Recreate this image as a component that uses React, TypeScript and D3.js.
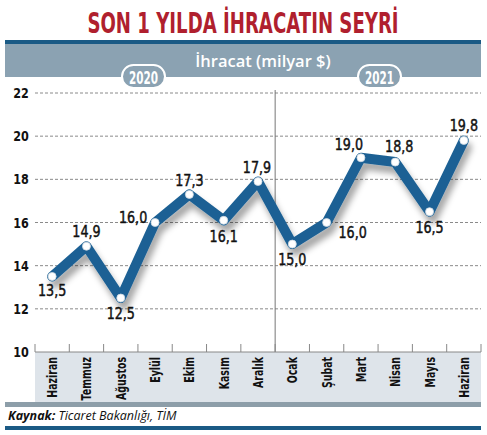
import * as d3 from "d3";

const months = ["Haziran", "Temmuz", "Ağustos", "Eylül", "Ekim", "Kasım", "Aralık", "Ocak", "Şubat", "Mart", "Nisan", "Mayıs", "Haziran"];
const values = [13.5, 14.9, 12.5, 16.0, 17.3, 16.1, 17.9, 15.0, 16.0, 19.0, 18.8, 16.5, 19.8];
const yTicks = [10, 12, 14, 16, 18, 20, 22];
const years = ["2020", "2021"];

// where each value label sits relative to its point
const labelOffsets = [
  [0, 20], [0, -9], [0, 21], [-22, 0], [0, -8], [0, 22], [-1, -8],
  [0, 21], [26, 15], [-12, -8], [4, -10], [0, 21], [0, -9],
];

const W = 487, H = 435;
const plot = { left: 35, right: 481, top: 93, bottom: 352 };
const font = "'DejaVu Sans', sans-serif";
const blue = "#1d6194";
const band = "#8ba2b2";

// no condensed face installed, so squeeze the text horizontally
function CT({ x, y, sx, rot = 0, children, ...rest }: any) {
  return (
    <text transform={`translate(${x},${y}) rotate(${rot}) scale(${sx},1)`} fontFamily={font} {...rest}>
      {children}
    </text>
  );
}

export default function App() {
  const idx = months.map((_, i) => i);
  const x = d3.scaleBand<number>().domain(idx).range([plot.left, plot.right]).padding(0);
  const y = d3.scaleLinear().domain([10, 22]).range([plot.bottom, plot.top]);
  const cx = (i: number) => x(i)! + x.bandwidth() / 2;
  const line = d3.line<number>().x((_, i) => cx(i)).y(d => y(d));
  const path = line(values)!;
  const splitX = x(7)!;

  return (
    <svg width={W} height={H} style={{ position: "absolute", left: 0, top: 0, background: "#fff" }}>
      <defs>
        <filter id="sh" x="-10%" y="-10%" width="130%" height="140%">
          <feDropShadow dx="3" dy="7" stdDeviation="3" floodColor="#000" floodOpacity="0.35" />
        </filter>
      </defs>

      <CT x={243} y={33} sx={0.625} textAnchor="middle" fontWeight="bold" fontSize={29} fill="#b01f2e">
        SON 1 YILDA İHRACATIN SEYRİ
      </CT>

      <rect x={5} y={40} width={476} height={4} fill="#1a5a85" />
      <rect x={5} y={44} width={476} height={33} fill={band} />
      <text x={263} y={67} textAnchor="middle" fontFamily="'Open Sans', sans-serif" fontWeight={600} fontSize={16.5}
        fill="#fff">İhracat (milyar $)</text>

      {years.map((yr, k) => {
        const c = k === 0 ? 143 : 379;
        return (
          <g key={yr}>
            <rect x={c - 21} y={65} width={43} height={23} rx={11.5} fill={band} stroke="#fff" strokeWidth={2} />
            <CT x={c + 0.5} y={84} sx={0.58} textAnchor="middle" fontWeight="bold" fontSize={18} fill="#fff">{yr}</CT>
          </g>
        );
      })}

      {yTicks.map(t => (
        <g key={t}>
          {t > 10 && (
            <line x1={plot.left} x2={plot.right} y1={y(t)} y2={y(t)} stroke="#8a8a8a" strokeWidth={1} strokeDasharray="3,2" />
          )}
          <CT x={21} y={y(t) + 5} sx={0.8} textAnchor="middle" fontWeight="bold" fontSize={14} fill="#111">{t}</CT>
        </g>
      ))}

      <line x1={splitX} x2={splitX} y1={90} y2={plot.bottom} stroke="#777" strokeWidth={1} />

      <rect x={plot.left} y={plot.bottom} width={plot.right - plot.left} height={51} fill="#dee4ea" />
      <rect x={5} y={402} width={476} height={5} fill="#8d9ea9" />
      <line x1={plot.left} x2={plot.right} y1={plot.bottom} y2={plot.bottom} stroke="#888" strokeWidth={1} />
      {idx.concat([13]).map(i => {
        const bx = i < 13 ? x(i)! : plot.right;
        return <line key={i} x1={bx} x2={bx} y1={plot.bottom - 8} y2={plot.bottom} stroke="#888" strokeWidth={1} />;
      })}
      {months.map((m, i) => (
        <CT key={i} x={cx(i) + 5} y={357} rot={-90} sx={0.65} textAnchor="end"
          fontWeight="bold" fontSize={14.5} fill="#111">{m}</CT>
      ))}

      <path d={path} fill="none" stroke={blue} strokeWidth={10} strokeLinejoin="round" strokeLinecap="round" filter="url(#sh)" />
      {values.map((v, i) => (
        <circle key={i} cx={cx(i)} cy={y(v)} r={4} fill="#fff" stroke="#cfd9e2" strokeWidth={0.8} />
      ))}
      {values.map((v, i) => (
        <CT key={i} x={cx(i) + labelOffsets[i][0]} y={y(v) + labelOffsets[i][1]} sx={0.77} textAnchor="middle"
          fontSize={16.5} fill="#111" stroke="#111" strokeWidth={0.5}>{d3.format(".1f")(v).replace(".", ",")}</CT>
      ))}

      <text x={8} y={420} fontFamily="'Open Sans', sans-serif" fontStyle="italic" fontSize={12.5} fill="#111">
        <tspan fontWeight="bold">Kaynak:</tspan> Ticaret Bakanlığı, TİM
      </text>
      <rect x={5} y={426} width={476} height={4} fill="#1a5a85" />
    </svg>
  );
}
